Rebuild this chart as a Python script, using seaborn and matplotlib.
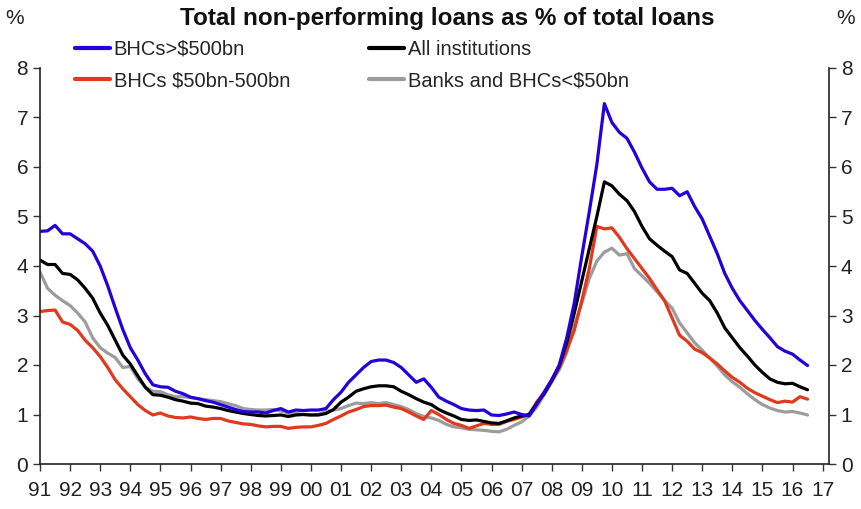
import matplotlib
matplotlib.use("Agg")
import matplotlib.pyplot as plt
from matplotlib.lines import Line2D
import numpy as np
import pandas as pd
import seaborn as sns

# Quarterly observations, 1991 Q1 .. 2016 Q3 (non-performing loans, % of total loans)
start_year = 1991
year_labels = ["91", "92", "93", "94", "95", "96", "97", "98", "99", "00", "01", "02", "03",
               "04", "05", "06", "07", "08", "09", "10", "11", "12", "13", "14", "15", "16", "17"]

bhc_large = [
    4.70, 4.71, 4.82, 4.65,  4.65, 4.55, 4.45, 4.30,  4.00, 3.60, 3.15, 2.72,
    2.35, 2.10, 1.82, 1.60,  1.56, 1.55, 1.47, 1.42,  1.35, 1.32, 1.28, 1.25,
    1.20, 1.15, 1.10, 1.06,  1.05, 1.05, 1.03, 1.08,  1.12, 1.05, 1.09, 1.08,
    1.09, 1.09, 1.12, 1.30,  1.45, 1.65, 1.80, 1.95,  2.07, 2.10, 2.10, 2.05,
    1.95, 1.80, 1.65, 1.72,  1.55, 1.35, 1.27, 1.20,  1.12, 1.09, 1.08, 1.09,
    0.99, 0.98, 1.01, 1.05,  1.00, 0.97, 1.20, 1.45,  1.70, 2.00, 2.55, 3.25,
    4.20, 5.10, 6.05, 7.28,  6.90, 6.70, 6.58, 6.30,  5.98, 5.70, 5.55, 5.55,
    5.57, 5.42, 5.50, 5.20,  4.95, 4.60, 4.25, 3.85,  3.55, 3.30, 3.10, 2.90,
    2.72, 2.55, 2.37, 2.28,  2.22, 2.10, 1.99,
]

bhc_mid = [
    3.08, 3.10, 3.11, 2.87,  2.82, 2.70, 2.50, 2.35,  2.17, 1.95, 1.70, 1.52,
    1.36, 1.20, 1.08, 0.99,  1.03, 0.97, 0.94, 0.93,  0.95, 0.92, 0.90, 0.92,
    0.92, 0.87, 0.84, 0.81,  0.80, 0.77, 0.75, 0.76,  0.76, 0.72, 0.74, 0.75,
    0.75, 0.78, 0.82, 0.90,  0.97, 1.05, 1.10, 1.16,  1.18, 1.18, 1.19, 1.15,
    1.12, 1.05, 0.97, 0.90,  1.08, 1.00, 0.90, 0.82,  0.78, 0.72, 0.77, 0.82,
    0.80, 0.80, 0.86, 0.90,  0.95, 1.00, 1.25, 1.45,  1.70, 1.95, 2.30, 2.70,
    3.30, 3.95, 4.80, 4.75,  4.77, 4.58, 4.35, 4.15,  3.95, 3.75, 3.52, 3.30,
    2.95, 2.60, 2.48, 2.32,  2.25, 2.14, 2.02, 1.88,  1.75, 1.65, 1.53, 1.44,
    1.37, 1.30, 1.24, 1.27,  1.25, 1.36, 1.31,
]

all_inst = [
    4.12, 4.03, 4.03, 3.85,  3.83, 3.72, 3.55, 3.35,  3.05, 2.80, 2.50, 2.20,
    2.02, 1.78, 1.55, 1.40,  1.39, 1.35, 1.30, 1.27,  1.23, 1.22, 1.17, 1.15,
    1.12, 1.08, 1.05, 1.02,  1.00, 0.98, 0.97, 0.98,  0.99, 0.96, 0.99, 1.00,
    0.99, 0.99, 1.02, 1.10,  1.25, 1.35, 1.47, 1.52,  1.56, 1.58, 1.58, 1.56,
    1.47, 1.40, 1.32, 1.25,  1.20, 1.10, 1.03, 0.97,  0.90, 0.88, 0.89, 0.86,
    0.83, 0.82, 0.87, 0.93,  0.97, 1.00, 1.22, 1.42,  1.68, 1.98, 2.45, 3.05,
    3.70, 4.35, 5.00, 5.70,  5.62, 5.45, 5.32, 5.10,  4.80, 4.55, 4.42, 4.30,
    4.19, 3.92, 3.85, 3.65,  3.45, 3.30, 3.05, 2.75,  2.55, 2.35, 2.18, 2.00,
    1.85, 1.72, 1.65, 1.62,  1.63, 1.56, 1.50,
]

banks_small = [
    3.88, 3.55, 3.41, 3.30,  3.20, 3.05, 2.87, 2.55,  2.35, 2.24, 2.15, 1.95,
    1.97, 1.72, 1.55, 1.47,  1.46, 1.40, 1.36, 1.36,  1.34, 1.32, 1.30, 1.28,
    1.26, 1.22, 1.18, 1.12,  1.10, 1.09, 1.09, 1.10,  1.07, 1.03, 1.02, 1.00,
    0.99, 1.00, 1.06, 1.09,  1.12, 1.18, 1.23, 1.22,  1.24, 1.22, 1.24, 1.20,
    1.16, 1.10, 1.02, 0.96,  0.93, 0.88, 0.80, 0.75,  0.73, 0.70, 0.69, 0.68,
    0.66, 0.65, 0.70, 0.78,  0.85, 0.97, 1.15, 1.40,  1.65, 1.90, 2.25, 2.80,
    3.25, 3.75, 4.10, 4.28,  4.36, 4.22, 4.25, 3.95,  3.80, 3.65, 3.48, 3.30,
    3.15, 2.85, 2.65, 2.45,  2.30, 2.14, 1.98, 1.80,  1.66, 1.55, 1.42, 1.30,
    1.20, 1.13, 1.08, 1.05,  1.06, 1.03, 0.99,
]

series_names = ["BHCs>$500bn", "BHCs $50bn-500bn", "All institutions", "Banks and BHCs<$50bn"]
series_values = [bhc_large, bhc_mid, all_inst, banks_small]
colors = {"BHCs>$500bn": "#2300dc",
          "BHCs $50bn-500bn": "#e0391c",
          "All institutions": "#000000",
          "Banks and BHCs<$50bn": "#9c9c9c"}

frames = []
for name, vals in zip(series_names, series_values):
    t = start_year + np.arange(len(vals)) / 4.0
    frames.append(pd.DataFrame({"date": t, "value": vals, "series": name}))
df = pd.concat(frames, ignore_index=True)

sns.set_style("ticks")
plt.rcParams["font.family"] = ["Liberation Sans", "DejaVu Sans"]

fig = plt.figure(figsize=(8.62, 5.09), dpi=100)
ax = fig.add_axes([40 / 862, 1 - 464 / 509, (829 - 40) / 862, (464 - 68) / 509])

# draw grey first so the coloured lines sit on top where they overlap
draw_order = ["Banks and BHCs<$50bn", "BHCs $50bn-500bn", "All institutions", "BHCs>$500bn"]
sns.lineplot(data=df, x="date", y="value", hue="series", hue_order=draw_order,
             palette=colors, linewidth=2.3, ax=ax, legend=False)

xmax = start_year + (829 - 40) / 30.1
ax.set_xlim(start_year, xmax)
ax.set_ylim(0, 8)
ax.set_xticks(np.arange(start_year, start_year + len(year_labels)))
ax.set_xticklabels(year_labels)
ax.set_yticks(range(0, 9))
ax.set_xlabel("")
ax.set_ylabel("")

tick_fs = 15
ax.tick_params(axis="both", labelsize=tick_fs, length=5, width=1, color="#333333", colors="#222222")
ax.tick_params(axis="x", pad=7)
for s in ["left", "bottom"]:
    ax.spines[s].set_color("#222222")
    ax.spines[s].set_linewidth(1.2)
ax.spines["top"].set_visible(False)
ax.spines["right"].set_visible(False)

ax2 = ax.twinx()
ax2.set_ylim(0, 8)
ax2.set_yticks(range(0, 9))
ax2.tick_params(axis="y", labelsize=tick_fs, length=5, width=1, color="#333333", colors="#222222")
ax2.spines["right"].set_color("#222222")
ax2.spines["right"].set_linewidth(1.2)
for s in ["top", "left", "bottom"]:
    ax2.spines[s].set_visible(False)

fig.text(447 / 862, 1 - 19 / 509, "Total non-performing loans as % of total loans",
         ha="center", va="center", fontsize=17.5, fontweight="bold", color="#111111")
fig.text(15 / 862, 1 - 18 / 509, "%", ha="center", va="center", fontsize=tick_fs, color="#222222")
fig.text(846 / 862, 1 - 18 / 509, "%", ha="center", va="center", fontsize=tick_fs, color="#222222")

handles = [Line2D([0], [0], color=colors[n], lw=3) for n in series_names]
fig.legend(handles, series_names, loc="upper left", ncol=2, frameon=False,
           bbox_to_anchor=(75 / 862, 1 - 40 / 509), borderaxespad=0, borderpad=0,
           fontsize=14.5, handlelength=1.75, handletextpad=0.18, columnspacing=3.9,
           labelspacing=0.62)

fig.savefig("out.png", dpi=100)
